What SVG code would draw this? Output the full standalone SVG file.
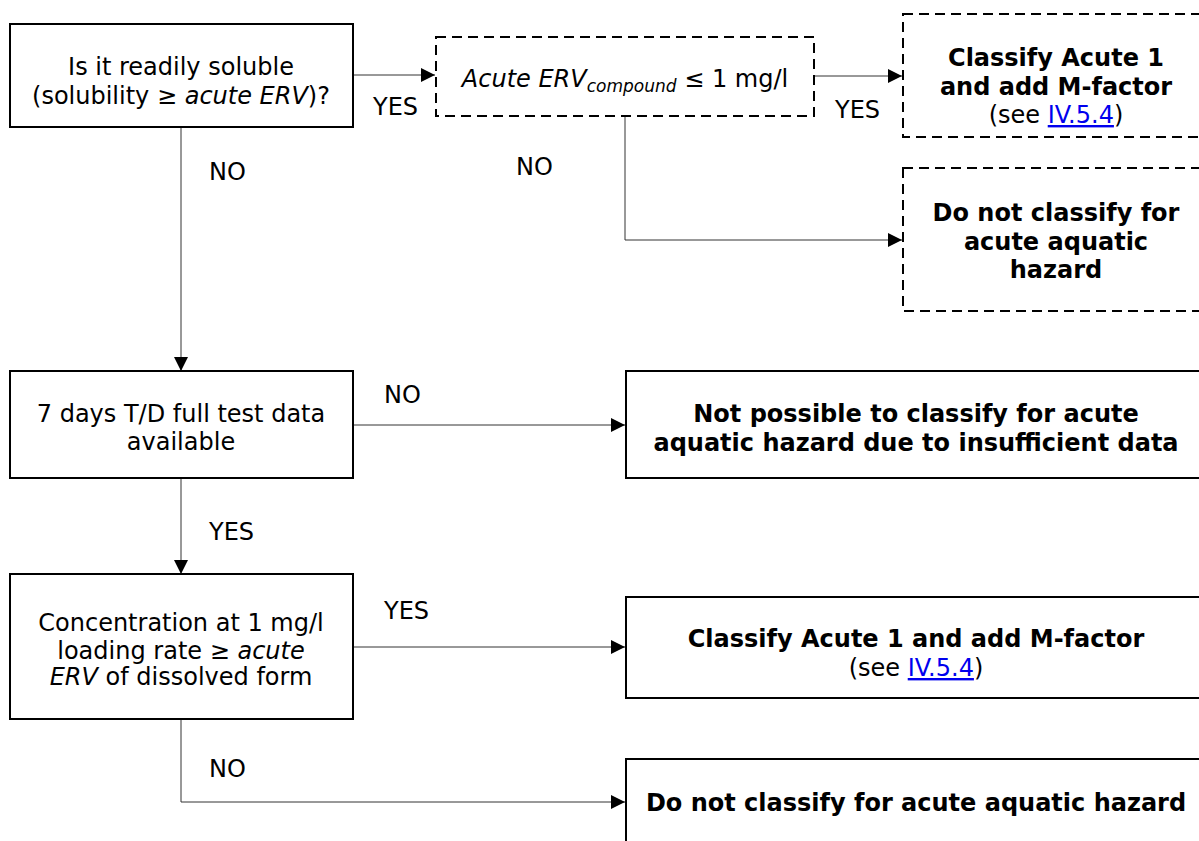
<svg xmlns="http://www.w3.org/2000/svg" width="1199" height="841" viewBox="0 0 1199 841">
<style>
text{font-family:"DejaVu Sans","Liberation Sans",sans-serif;font-size:24px;fill:#000}
.b{font-weight:bold}
.c{text-anchor:middle}
.box{fill:#fff;stroke:#000;stroke-width:2}
.dash{fill:#fff;stroke:#000;stroke-width:2;stroke-dasharray:10 6}
.ln{fill:none;stroke:#333;stroke-width:1}
.lnk{fill:#0000EE;text-decoration:underline}
</style>
<defs>
<marker id="ah" markerWidth="14" markerHeight="14" refX="14" refY="7" orient="auto" markerUnits="userSpaceOnUse">
<path d="M0,0 L14,7 L0,14 Z" fill="#000"/>
</marker>
</defs>
<g id="connectors">
<path class="ln" d="M353,75 H435" marker-end="url(#ah)"/>
<path class="ln" d="M815,76 H902" marker-end="url(#ah)"/>
<path class="ln" d="M625,117 V240 H902" marker-end="url(#ah)"/>
<path class="ln" d="M181,127 V371" marker-end="url(#ah)"/>
<path class="ln" d="M353,425 H625" marker-end="url(#ah)"/>
<path class="ln" d="M181,478 V574" marker-end="url(#ah)"/>
<path class="ln" d="M353,647 H625" marker-end="url(#ah)"/>
<path class="ln" d="M181,719 V802 H625" marker-end="url(#ah)"/>
<text x="373" y="115">YES</text>
<text x="835" y="118">YES</text>
<text x="516" y="175">NO</text>
<text x="209" y="180">NO</text>
<text x="384" y="403">NO</text>
<text x="209" y="540">YES</text>
<text x="384" y="619">YES</text>
<text x="209" y="777">NO</text>
</g>
<g id="n1">
<rect class="box" x="10" y="24" width="343" height="103"/>
<text class="c" x="181" y="75">Is it readily soluble</text>
<text class="c" x="181" y="104">(solubility ≥ <tspan font-style="italic">acute ERV</tspan>)?</text>
</g>
<g id="n2">
<rect class="dash" x="436" y="37" width="378" height="79"/>
<text class="c" x="625" y="87"><tspan font-style="italic">Acute ERV</tspan><tspan font-style="italic" font-size="17" dy="5">compound</tspan><tspan dy="-5"> ≤ 1 mg/l</tspan></text>
</g>
<g id="n3">
<rect class="dash" x="903" y="14" width="310" height="123"/>
<text class="c b" x="1056" y="66">Classify Acute 1</text>
<text class="c b" x="1056" y="95">and add M-factor</text>
<text class="c" x="1056" y="123">(see <tspan class="lnk">IV.5.4</tspan>)</text>
</g>
<g id="n4">
<rect class="dash" x="903" y="168" width="310" height="143"/>
<text class="c b" x="1056" y="221">Do not classify for</text>
<text class="c b" x="1056" y="250">acute aquatic</text>
<text class="c b" x="1056" y="278">hazard</text>
</g>
<g id="n5">
<rect class="box" x="10" y="371" width="343" height="107"/>
<text class="c" x="181" y="422">7 days T/D full test data</text>
<text class="c" x="181" y="450">available</text>
</g>
<g id="n6">
<rect class="box" x="626" y="371" width="590" height="107"/>
<text class="c b" x="916" y="422">Not possible to classify for acute</text>
<text class="c b" x="916" y="451">aquatic hazard due to insufficient data</text>
</g>
<g id="n7">
<rect class="box" x="10" y="574" width="343" height="145"/>
<text class="c" x="181" y="631">Concentration at 1 mg/l</text>
<text class="c" x="181" y="659">loading rate ≥ <tspan font-style="italic">acute</tspan></text>
<text class="c" x="181" y="685"><tspan font-style="italic">ERV</tspan> of dissolved form</text>
</g>
<g id="n8">
<rect class="box" x="626" y="597" width="590" height="101"/>
<text class="c b" x="916" y="647">Classify Acute 1 and add M-factor</text>
<text class="c" x="916" y="676">(see <tspan class="lnk">IV.5.4</tspan>)</text>
</g>
<g id="n9">
<rect class="box" x="626" y="759" width="590" height="100"/>
<text class="c b" x="916" y="811">Do not classify for acute aquatic hazard</text>
</g>
</svg>
